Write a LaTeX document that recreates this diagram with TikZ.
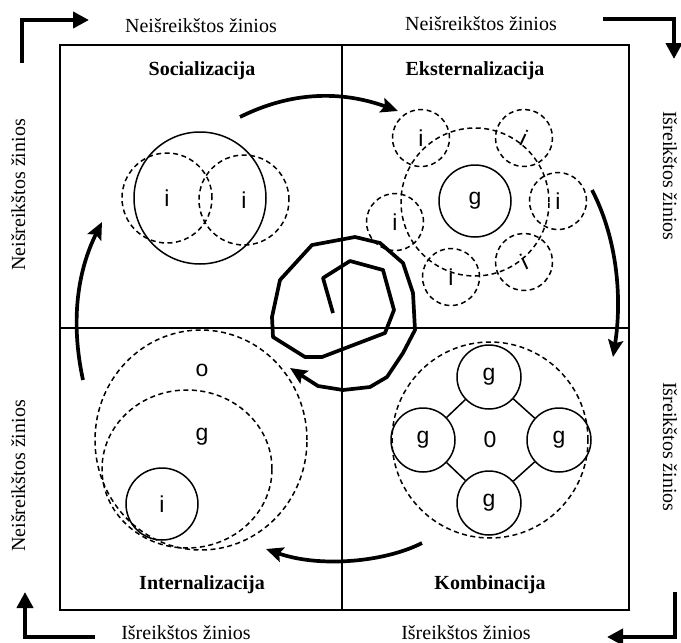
\documentclass[tikz,border=0pt]{standalone}
\usepackage{fontspec}
\setmainfont{Liberation Serif}
\newfontfamily\lblfont{Liberation Sans}
\usetikzlibrary{arrows.meta,shapes.geometric}
\begin{document}
\begin{tikzpicture}[x=1pt,y=-1pt,
  side/.style={font=\fontsize{20}{22}\selectfont, inner sep=0pt, anchor=base},
  quadtitle/.style={font=\fontsize{20}{22}\selectfont\bfseries, inner sep=0pt, anchor=base},
  lbl/.style={font=\lblfont\fontsize{23}{26}\selectfont, inner sep=0pt},
  solidc/.style={circle, draw, line width=1.5pt, inner sep=0pt, font=\lblfont\fontsize{23}{26}\selectfont},
  dashc/.style={circle, draw, line width=1.5pt, dash pattern=on 5pt off 3.5pt, inner sep=0pt, font=\lblfont\fontsize{23}{26}\selectfont},
  dashe/.style={ellipse, draw, line width=1.5pt, dash pattern=on 5pt off 3.5pt, inner sep=0pt},
  frame/.style={line width=1.8pt},
  cornerarrow/.style={line width=4.5pt, -{Triangle[length=16pt,width=16pt]}},
  cyclearrow/.style={line width=3.7pt, line join=round, -{Stealth[length=17pt,width=15pt,inset=3pt]}},
]
\fill[white] (0,0) rectangle (681,643);
\useasboundingbox (0,0) rectangle (681,643);

% frame and quadrant lines
\draw[frame] (60,45) rectangle (629,610);
\draw[frame] (342,45) -- (342,610);
\draw[frame] (60,328) -- (629,328);

% outer texts
\node[side] (tl) at (201,32) {Neišreikštos žinios};
\node[side] (tr) at (481,30) {Neišreikštos žinios};
\node[side] (bl) at (186,639) {Išreikštos žinios};
\node[side] (br) at (466,639) {Išreikštos žinios};
\node[side, rotate=90] (lu) at (25,195) {Neišreikštos žinios};
\node[side, rotate=90] (ll) at (25,476) {Neišreikštos žinios};
\node[side, rotate=-90] (ru) at (663,176) {Išreikštos žinios};
\node[side, rotate=-90] (rl) at (663,447) {Išreikštos žinios};

% corner arrows
\coordinate (tlA) at (22,63);  \coordinate (tlB) at (89,20);
\coordinate (trA) at (603,19); \coordinate (trB) at (674,59);
\coordinate (brA) at (675,592);\coordinate (brB) at (607,637);
\coordinate (blA) at (95,637); \coordinate (blB) at (25,592);
\draw[cornerarrow] (tlA) |- (tlB);
\draw[cornerarrow] (trA) -| (trB);
\draw[cornerarrow] (brA) |- (brB);
\draw[cornerarrow] (blA) -| (blB);

% titles
\node[quadtitle] (soc) at (202,75) {Socializacija};
\node[quadtitle] (eks) at (475,75) {Eksternalizacija};
\node[quadtitle] (int) at (202,589) {Internalizacija};
\node[quadtitle] (kom) at (490,589) {Kombinacija};

% Socializacija
\node[solidc, minimum size=132pt] (sbig) at (200,198) {};
\node[dashc, minimum size=90pt] (sl) at (167,198) {i};
\node[dashc, minimum size=90pt] (sr) at (244,200) {i};

% Eksternalizacija
\node[dashc, minimum size=148pt] (ering) at (475,202) {};
\node[solidc, minimum size=72pt] (eg) at (475,201) {g};
\node[dashc, minimum size=57pt] (e1) at (421,138) {i};
\node[dashc, minimum size=57pt, rotate=-25] (e2) at (524,138) {i};
\node[dashc, minimum size=57pt] (e3) at (558,201) {i};
\node[dashc, minimum size=57pt, rotate=25] (e4) at (524,262) {i};
\node[dashc, minimum size=57pt] (e5) at (451,277) {i};
\node[dashc, minimum size=57pt] (e6) at (395,222) {i};

% Kombinacija
\node[dashc, minimum size=196pt] (kring) at (490,440) {0};
\node[solidc, minimum size=64pt] (kt) at (489,377) {g};
\node[solidc, minimum size=64pt] (kl) at (423,440) {g};
\node[solidc, minimum size=64pt] (kr) at (559,440) {g};
\node[solidc, minimum size=64pt] (kb) at (489,503) {g};
\draw[line width=1.5pt] (kt) -- (kl);
\draw[line width=1.5pt] (kt) -- (kr);
\draw[line width=1.5pt] (kb) -- (kl);
\draw[line width=1.5pt] (kb) -- (kr);

% Internalizacija
\node[dashe, minimum width=212pt, minimum height=220pt] (io) at (201,440) {};
\node[dashe, minimum width=170pt, minimum height=158pt] (ig) at (187,469) {};
\node[solidc, minimum size=72pt] (ii) at (162,504) {i};
\node[lbl] (olbl) at (202,370) {o};
\node[lbl] (glbl) at (202,437) {g};

% cycle arrows
\coordinate (a1s) at (240,117); \coordinate (a1e) at (398,111);
\draw[cyclearrow] (a1s) .. controls (290,92) and (340,90) .. (a1e);
\coordinate (a2s) at (592,190); \coordinate (a2e) at (613,357);
\draw[cyclearrow] (a2s) .. controls (618,240) and (622,300) .. (a2e);
\coordinate (a3s) at (422,543); \coordinate (a3e) at (266,549);
\draw[cyclearrow] (a3s) .. controls (385,562) and (320,568) .. (a3e);
\coordinate (a4s) at (83,380); \coordinate (a4e) at (102,222);
\draw[cyclearrow] (a4s) .. controls (70,320) and (78,270) .. (a4e);

% central spiral
\coordinate (sps) at (333,313); \coordinate (spe) at (290,368);
\draw[cyclearrow] (sps) -- (323,278) -- (350,261) -- (383,270) -- (394,310) -- (385,333)
  -- (322,357) -- (305,357) -- (273,337) -- (272,317) -- (280,280) -- (312,245)
  -- (355,237) -- (380,243) -- (403,263) -- (413,293) -- (415,330) -- (403,353)
  -- (387,377) -- (370,387) -- (343,390) -- (318,386) -- (spe);
\end{tikzpicture}
\end{document}
